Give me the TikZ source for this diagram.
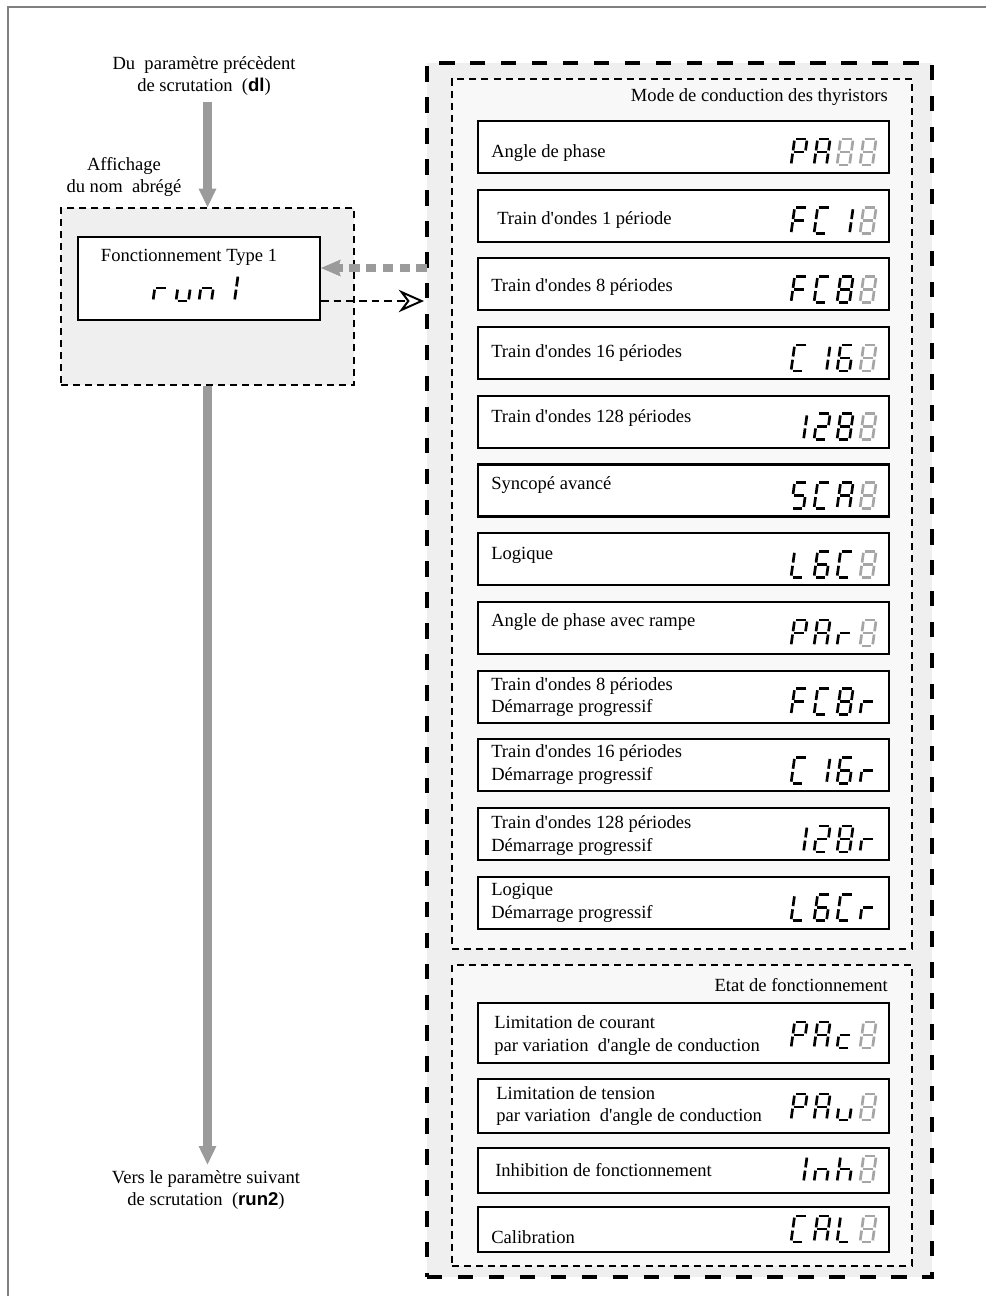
\documentclass[tikz,border=0pt]{standalone}
\usepackage{fontspec}
\setmainfont{Liberation Serif}
\setsansfont{Liberation Sans}
\usetikzlibrary{arrows.meta}
\definecolor{framegray}{RGB}{128,128,128}
\definecolor{arrowgray}{RGB}{155,155,155}
\definecolor{boxgray}{RGB}{239,239,239}
\definecolor{innergray}{RGB}{248,248,248}
\definecolor{seggray}{RGB}{165,165,165}
\newlength{\unitpx}\setlength{\unitpx}{0.025cm}

% seven segment display: segments, origin at bottom left
\def\segpa{(1.6,-26) -- (10.9,-26)}
\def\segpb{(12.5,-24.4) -- (12.5,-14.6)}
\def\segpc{(12.5,-11.4) -- (12.5,-1.6)}
\def\segpd{(1.6,0) -- (10.9,0)}
\def\segpe{(0,-11.4) -- (0,-1.6)}
\def\segpf{(0,-24.4) -- (0,-14.6)}
\def\segpg{(1.6,-13) -- (10.9,-13)}
% characters
\def\sgP{a,b,f,g,e}
\def\sgA{a,b,c,e,f,g}
\def\sgF{a,f,g,e}
\def\sgC{a,f,e,d}
\def\sgL{f,e,d}
\def\sgS{a,f,g,c,d}
\def\sgOne{b,c}
\def\sgTwo{a,b,g,e,d}
\def\sgSix{a,f,g,e,d,c}
\def\sgEight{a,b,c,d,e,f,g}
\def\sgr{e,g}
\def\sgu{c,d,e}
\def\sgn{e,g,c}
\def\sgc{g,e,d}
\def\sgh{f,e,g,c}
\def\sgoff{g,a,b,c,d,e,f} % unlit digit
\newcommand{\segdigit}[3]{%
  \edef\seglist{#3}%
  \def\segcol{black}\ifx\seglist\sgoff\def\segcol{seggray}\fi
  \begin{scope}[shift={(#1,#2)}, xslant=0.14, color=\segcol, line width=1.9pt]
    \foreach \s in \seglist {\expandafter\draw\csname segp\s\endcsname;}
  \end{scope}}

\begin{document}
\begin{tikzpicture}[x=0.025cm, y=-0.025cm,
  every node/.style={font=\fontsize{13.2}{16}\selectfont, inner sep=0pt},
  txt/.style={anchor=west, align=left},
  rowbox/.style={draw, line width=1.5pt, fill=white, minimum width=411\unitpx, minimum height=52\unitpx},
  groupbox/.style={draw, line width=1.4pt, dash pattern=on 5pt off 3.6pt, fill=innergray},
  bigarrow/.style={arrowgray, line width=6.4pt, -{Triangle[length=13pt, width=12.5pt, line width=0.5pt]}}]

\useasboundingbox (0,0) rectangle (986,1296);

% Frame
\draw[framegray, line width=1.2pt] (8,1296) -- (8,7) -- (986,7);

% Left column
\node[align=center] (prev) at (204,76) {Du~ paramètre précèdent\\de scrutation~ ({\sffamily\bfseries dl})};
\node[align=center] (afflabel) at (124,177) {Affichage\\du nom~ abrégé};
\node[draw, line width=1.4pt, dash pattern=on 5pt off 3.6pt, fill=boxgray,
  minimum width=293\unitpx, minimum height=177\unitpx] (affbox) at (207.5,296.5) {};
\node[draw, line width=1.5pt, fill=white, minimum width=242\unitpx, minimum height=83\unitpx] (runbox) at (199,278.5) {};
\node (runlabel) at (189,257) {Fonctionnement Type 1};
\segdigit{153}{301}{\sgr}\segdigit{176}{301}{\sgu}\segdigit{199}{301}{\sgn}\segdigit{222}{301}{\sgOne}
\node[align=center] (next) at (206,1190) {Vers le paramètre suivant\\de scrutation~ ({\sffamily\bfseries run2})};

% Right column
\node[draw, line width=2.2pt, dash pattern=on 11pt off 11pt, fill=boxgray,
  minimum width=505\unitpx, minimum height=1214\unitpx] (modebox) at (679.5,670) {};
\node[groupbox, minimum width=460\unitpx, minimum height=870\unitpx] (condbox) at (682,514) {};
\node[groupbox, minimum width=460\unitpx, minimum height=301\unitpx] (etatbox) at (682,1115.5) {};
\node[anchor=east] (condtitle) at (888,97) {Mode de conduction des thyristors};
\node[anchor=east] (etattitle) at (888,985) {Etat de fonctionnement};

% Rows
\foreach \i/\y in {1/147,2/215.7,3/284.4,4/353.1,5/421.8,6/490.5,
  7/559.2,8/627.9,9/696.6,10/765.3,11/834,12/902.7} {
  \node[rowbox] (row\i) at (683.5,\y) {};
}
\node[rowbox, minimum height=60\unitpx] (row13) at (683.5,1033) {};
\node[rowbox, minimum height=54\unitpx] (row14) at (683.5,1106) {};
\node[rowbox, minimum height=45\unitpx] (row15) at (683.5,1170.5) {};
\node[rowbox, minimum height=45\unitpx] (row16) at (683.5,1229.5) {};

% Row labels
\foreach \i/\x/\y/\lab in {
  1/491/153/{Angle de phase},
  2/497/220/{Train d\textquotesingle ondes 1 période},
  3/491/287/{Train d\textquotesingle ondes 8 périodes},
  4/491/353/{Train d\textquotesingle ondes 16 périodes},
  5/491/418/{Train d\textquotesingle ondes 128 périodes},
  6/491/485/{Syncopé avancé},
  7/491/555/{Logique},
  8/491/622/{Angle de phase avec rampe},
  9/491/697/{Train d\textquotesingle ondes 8 périodes\\Démarrage progressif},
  10/491/764.5/{Train d\textquotesingle ondes 16 périodes\\Démarrage progressif},
  11/491/835.5/{Train d\textquotesingle ondes 128 périodes\\Démarrage progressif},
  12/491/903/{Logique\\Démarrage progressif},
  13/494/1035.5/{Limitation de courant\\par variation~ d\textquotesingle angle de conduction},
  14/496/1106/{Limitation de tension\\par variation~ d\textquotesingle angle de conduction},
  15/495/1170/{Inhibition de fonctionnement},
  16/491/1237/{Calibration}} {
  \node[txt] (lab\i) at (\x,\y) {\lab};
}

% Displays
\foreach \y/\ka/\kb/\kc/\kd in {
  165/\sgP/\sgA/\sgoff/\sgoff,
  233.7/\sgF/\sgC/\sgOne/\sgoff,
  302.4/\sgF/\sgC/\sgEight/\sgoff,
  371.1/\sgC/\sgOne/\sgSix/\sgoff,
  439.8/\sgOne/\sgTwo/\sgEight/\sgoff,
  508.5/\sgS/\sgC/\sgA/\sgoff,
  577.2/\sgL/\sgSix/\sgC/\sgoff,
  645.9/\sgP/\sgA/\sgr/\sgoff,
  714.6/\sgF/\sgC/\sgEight/\sgr,
  783.3/\sgC/\sgOne/\sgSix/\sgr,
  852/\sgOne/\sgTwo/\sgEight/\sgr,
  920.7/\sgL/\sgSix/\sgC/\sgr,
  1048/\sgP/\sgA/\sgc/\sgoff,
  1120/\sgP/\sgA/\sgu/\sgoff,
  1182/\sgOne/\sgn/\sgh/\sgoff,
  1242/\sgC/\sgA/\sgL/\sgoff} {
  \segdigit{791}{\y}{\ka}\segdigit{814}{\y}{\kb}\segdigit{837}{\y}{\kc}\segdigit{860}{\y}{\kd}
}

% Arrows
\draw[bigarrow, shorten <=4pt] (prev.south -| affbox.north) -- (affbox.north);
\draw[bigarrow, shorten >=4pt] (affbox.south) -- (affbox.south |- next.north);
\coordinate (retour) at (427,268);
\coordinate (aller) at (424,301);
\draw[arrowgray, line width=5pt, dash pattern=on 7.5pt off 4.5pt,
  -{Stealth[length=14pt, width=12pt, inset=2pt, line width=0.5pt]}] (retour) -- (retour -| runbox.east);
\draw[line width=1.4pt, dash pattern=on 5.5pt off 3.5pt,
  -{Stealth[open, length=18pt, width=16pt, inset=6pt, line width=1.4pt]}] (aller -| runbox.east) -- (aller);

\end{tikzpicture}
\end{document}
